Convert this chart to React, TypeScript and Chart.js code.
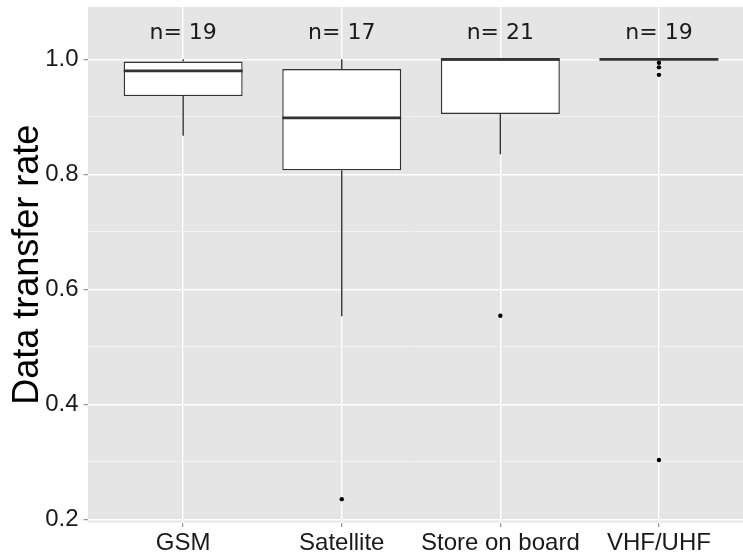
import { useEffect, useRef } from 'react';
import { Chart, registerables } from 'chart.js';

Chart.register(...registerables);

// Boxplot summary per transmission method
const categories = ['GSM', 'Satellite', 'Store on board', 'VHF/UHF'];
const lowerWhisker = [0.867, 0.553, 0.835, 1.0];
const q1 = [0.936, 0.807, 0.905, 1.0];
const median = [0.98, 0.898, 1.0, 1.0];
const q3 = [0.996, 0.983, 1.0, 1.0];
const upperWhisker = [1.0, 1.0, 1.0, 1.0];
const outliers = [[], [0.235], [0.554], [0.994, 0.986, 0.973, 0.303]];
const nCounts = [19, 17, 21, 19];

// Axis ticks
const yMajorTicks = [0.2, 0.4, 0.6, 0.8, 1.0];
const yMinorTicks = [0.3, 0.5, 0.7, 0.9];

const BOX_HALF = 0.375;
const SANS = '"Liberation Sans", Arial, Helvetica, sans-serif';

const isMajor = (v: number) => yMajorTicks.some((t) => Math.abs(t - v) < 1e-9);

const clearPadding = (s: any) => {
  s.paddingTop = 0;
  s.paddingBottom = 0;
  s.paddingLeft = 0;
  s.paddingRight = 0;
};

const panelBackground = {
  id: 'panelBackground',
  beforeDraw(chart: any) {
    const { ctx, chartArea } = chart;
    ctx.save();
    ctx.fillStyle = '#E5E5E5';
    ctx.fillRect(chartArea.left, chartArea.top, chartArea.right - chartArea.left, chartArea.bottom - chartArea.top);
    ctx.restore();
  },
};

const countLabels = {
  id: 'countLabels',
  afterDatasetsDraw(chart: any) {
    const { ctx, scales } = chart;
    ctx.save();
    ctx.font = '22px "DejaVu Sans", sans-serif';
    ctx.fillStyle = '#1A1A1A';
    ctx.textAlign = 'center';
    ctx.textBaseline = 'middle';
    categories.forEach((_, i) => {
      const top = Math.max(upperWhisker[i], ...outliers[i]);
      ctx.fillText(`n= ${nCounts[i]}`, scales.x.getPixelForValue(i), scales.y.getPixelForValue(top * 1.05) + 2.5);
    });
    ctx.restore();
  },
};

export default function App() {
  const ref = useRef<HTMLCanvasElement>(null);

  useEffect(() => {
    const canvas = ref.current;
    if (!canvas) return;

    const boxes = categories.map((_, i) => ({ x: i, y: [q1[i], q3[i]] }));
    const medianPts: any[] = [];
    const whiskerPts: any[] = [];
    categories.forEach((_, i) => {
      medianPts.push({ x: i - BOX_HALF, y: median[i] }, { x: i + BOX_HALF, y: median[i] }, { x: i, y: null });
      whiskerPts.push(
        { x: i, y: q3[i] }, { x: i, y: upperWhisker[i] }, { x: i, y: null },
        { x: i, y: q1[i] }, { x: i, y: lowerWhisker[i] }, { x: i, y: null },
      );
    });
    const outlierPts = outliers.flatMap((vals, i) => vals.map((v) => ({ x: i, y: v })));

    const chart = new Chart(canvas, {
      type: 'bar',
      data: {
        datasets: [
          {
            type: 'line',
            data: whiskerPts,
            borderColor: '#333333',
            borderWidth: 1.4,
            pointRadius: 0,
            spanGaps: false,
            order: 4,
          } as any,
          {
            type: 'bar',
            data: boxes,
            backgroundColor: '#FFFFFF',
            borderColor: '#333333',
            borderWidth: 1.4,
            borderSkipped: false,
            barPercentage: BOX_HALF * 2,
            categoryPercentage: 1,
            order: 3,
          } as any,
          {
            type: 'line',
            data: medianPts,
            borderColor: '#333333',
            borderWidth: 2.8,
            pointRadius: 0,
            spanGaps: false,
            order: 2,
          } as any,
          {
            type: 'scatter',
            data: outlierPts,
            backgroundColor: '#000000',
            borderWidth: 0,
            pointRadius: 2.2,
            order: 1,
          } as any,
        ],
      },
      options: {
        animation: false,
        responsive: false,
        maintainAspectRatio: false,
        events: [],
        layout: { autoPadding: false, padding: { top: 7, left: 0, right: 0, bottom: 0 } },
        plugins: { legend: { display: false }, tooltip: { enabled: false } },
        scales: {
          x: {
            type: 'linear',
            min: -0.6,
            max: 3.53,
            offset: false,
            afterBuildTicks: (s: any) => {
              s.ticks = categories.map((_, i) => ({ value: i }));
            },
            afterFit: (s: any) => {
              s.height = 31.5;
              clearPadding(s);
            },
            grid: {
              offset: false,
              color: '#FFFFFF',
              lineWidth: 1.4,
              drawTicks: true,
              tickLength: 4.5,
              tickColor: '#7F7F7F',
              tickWidth: 1,
            },
            border: { display: false },
            ticks: {
              autoSkip: false,
              maxRotation: 0,
              minRotation: 0,
              padding: 2,
              color: '#1A1A1A',
              font: { family: SANS, size: 24 },
              callback: (v: any) => categories[v] ?? '',
            },
          } as any,
          y: {
            type: 'linear',
            min: 0.1944,
            max: 1.091,
            afterBuildTicks: (s: any) => {
              s.ticks = [...yMajorTicks, ...yMinorTicks].sort((a, b) => a - b).map((v) => ({ value: v }));
            },
            afterFit: (s: any) => {
              s.width = 88;
              clearPadding(s);
            },
            grid: {
              color: (c: any) => (isMajor(c.tick.value) ? '#FFFFFF' : '#F2F2F2'),
              lineWidth: (c: any) => (isMajor(c.tick.value) ? 1.4 : 0.8),
              drawTicks: true,
              tickLength: 4.5,
              tickColor: (c: any) => (isMajor(c.tick.value) ? '#7F7F7F' : 'rgba(0,0,0,0)'),
              tickWidth: 1,
            },
            border: { display: false },
            ticks: {
              autoSkip: false,
              padding: 5,
              color: '#1A1A1A',
              font: { family: SANS, size: 24 },
              callback: (v: any) => (isMajor(v) ? Number(v).toFixed(1) : ''),
            },
            title: {
              display: true,
              text: 'Data transfer rate',
              color: '#000000',
              font: { family: SANS, size: 36 },
              padding: { top: 6, bottom: 0 },
            },
          } as any,
        },
      },
      plugins: [panelBackground, countLabels],
    });

    return () => chart.destroy();
  }, []);

  return (
    <div style={{ position: 'absolute', left: 0, top: 0, width: 743, height: 554, background: '#FFFFFF' }}>
      <canvas ref={ref} width={743} height={554} />
    </div>
  );
}
